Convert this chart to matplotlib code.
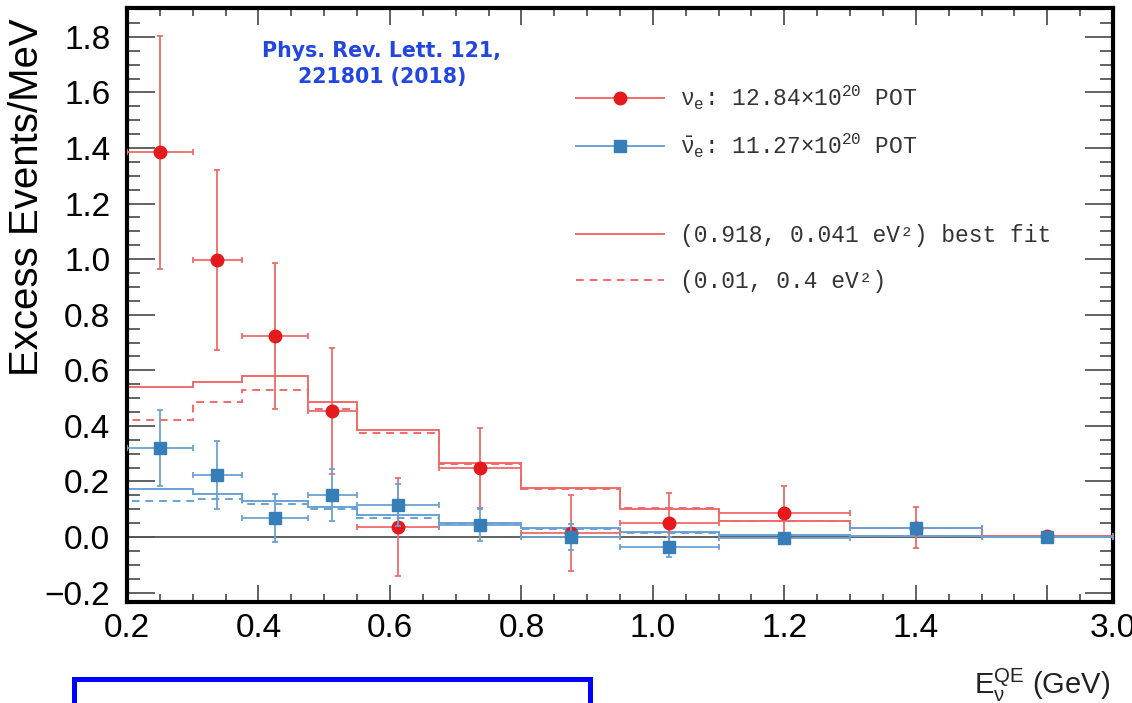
import matplotlib
matplotlib.use('Agg')
import matplotlib.pyplot as plt
from matplotlib.lines import Line2D
from matplotlib.patches import Rectangle
import numpy as np

plt.rcParams['font.family'] = ['Liberation Sans', 'DejaVu Sans']
plt.rcParams['mathtext.fontset'] = 'custom'
plt.rcParams['mathtext.rm'] = 'Liberation Sans'
plt.rcParams['mathtext.it'] = 'Liberation Sans'
plt.rcParams['mathtext.bf'] = 'Liberation Sans:bold'

# bin edges in GeV (last bin 1.5-3.0 is squeezed on the axis)
edges = [0.2, 0.3, 0.375, 0.475, 0.55, 0.675, 0.8, 0.95, 1.1, 1.3, 1.5, 3.0]

# neutrino mode excess (events/MeV)
nu_y = [1.385, 0.997, 0.724, 0.454, 0.036, 0.248, 0.014, 0.050, 0.086, 0.034, 0.002]
nu_err = [0.42, 0.324, 0.263, 0.227, 0.175, 0.144, 0.137, 0.108, 0.098, 0.074, 0.010]

# antineutrino mode excess
nubar_y = [0.320, 0.223, 0.068, 0.151, 0.115, 0.043, 0.000, -0.036, -0.005, 0.032, 0.000]
nubar_err = [0.137, 0.122, 0.085, 0.095, 0.075, 0.059, 0.048, 0.035, 0.020, 0.020, 0.010]

# predictions
nu_best = [0.540, 0.558, 0.580, 0.486, 0.385, 0.268, 0.176, 0.100, 0.058, 0.032, 0.004]
nu_alt = [0.421, 0.486, 0.529, 0.460, 0.374, 0.262, 0.172, 0.104, 0.059, 0.032, 0.004]
nubar_best = [0.172, 0.155, 0.130, 0.108, 0.079, 0.050, 0.033, 0.018, 0.007, 0.003, 0.001]
nubar_alt = [0.130, 0.137, 0.118, 0.100, 0.070, 0.045, 0.030, 0.016, 0.006, 0.003, 0.001]

xtick_labels = ['0.2', '0.4', '0.6', '0.8', '1.0', '1.2', '1.4', '', '3.0']

red = '#e41a1c'
red_l = '#f06a6a'
blue = '#377eb8'
blue_l = '#6aa2d4'


def fwd(x):
    x = np.asarray(x, dtype=float)
    return np.where(x <= 1.5, x, 1.5 + (x - 1.5) * 0.2 / 1.5)


def inv(x):
    x = np.asarray(x, dtype=float)
    return np.where(x <= 1.5, x, 1.5 + (x - 1.5) * 1.5 / 0.2)


edges = np.array(edges)
lo, hi = edges[:-1], edges[1:]
centers = inv((fwd(lo) + fwd(hi)) / 2)
xerr = [centers - lo, hi - centers]

fig = plt.figure(figsize=(11.32, 7.03), dpi=100)
ax = fig.add_axes([127 / 1132, 1 - 602 / 703, 986 / 1132, 594 / 703])
ax.set_xscale('function', functions=(fwd, inv))

ax.axhline(0, color='#555555', lw=1.3, zorder=1)

ax.stairs(nu_best, edges, color=red_l, lw=1.4, zorder=2)
ax.stairs(nu_alt, edges, color=red_l, lw=1.4, ls=(0, (4, 3)), zorder=2)
ax.stairs(nubar_best, edges, color=blue_l, lw=1.4, zorder=2)
ax.stairs(nubar_alt, edges, color=blue_l, lw=1.4, ls=(0, (4, 3)), zorder=2)

ax.errorbar(centers, nu_y, yerr=nu_err, xerr=xerr, fmt='o', color=red, ms=9,
            ecolor=red_l, elinewidth=1.3, capsize=2.5, capthick=1.3, zorder=3)
ax.errorbar(centers, nubar_y, yerr=nubar_err, xerr=xerr, fmt='s', color=blue, ms=9,
            ecolor=blue_l, elinewidth=1.3, capsize=2.5, capthick=1.3, zorder=4)

ax.set_xlim(0.2, 3.0)
ax.set_ylim(-0.234, 1.904)

major_x = [0.2, 0.4, 0.6, 0.8, 1.0, 1.2, 1.4, float(inv(1.6)), 3.0]
ax.set_xticks(major_x)
ax.set_xticklabels(xtick_labels)
ax.set_xticks(inv(np.arange(0.25, 1.70, 0.05)), minor=True)
ax.set_yticks(np.arange(-0.2, 1.81, 0.2))
ax.set_yticklabels(['%.1f' % v if v >= -0.01 else '\u22120.2' for v in np.arange(-0.2, 1.81, 0.2)])
ax.set_yticks(np.arange(-0.2, 1.90, 0.05), minor=True)

ax.tick_params(axis='both', which='both', direction='in', top=True, right=True,
               color='#555555', width=1.3)
ax.tick_params(axis='x', which='major', length=12, pad=8, labelsize=24)
ax.tick_params(axis='x', which='minor', length=6)
ax.tick_params(axis='y', which='major', length=20, pad=12, labelsize=24)
ax.tick_params(axis='y', which='minor', length=9.5)
for s in ax.spines.values():
    s.set_linewidth(3)
    s.set_color('black')

ax.set_ylabel('Excess Events/MeV', fontsize=29, loc='top')
ax.yaxis.set_label_coords(-0.082, 0.983)

fig.text(1110 / 1132, 1 - 694 / 703, r'$\mathregular{E_{\nu}^{QE}}$ (GeV)',
         ha='right', va='baseline', fontsize=21, color='#222222')

fig.text(382 / 1132, 1 - 64 / 703, 'Phys. Rev. Lett. 121,\n221801 (2018)',
         ha='center', va='center', fontsize=14.8, fontweight='bold',
         color='#2346e0', family='DejaVu Sans', linespacing=1.4)

mono = {'family': 'Liberation Mono', 'size': 16.5}
h1 = [Line2D([], [], color=red_l, lw=1.4, marker='o', ms=9, mfc=red, mec=red),
      Line2D([], [], color=blue_l, lw=1.4, marker='s', ms=9, mfc=blue, mec=blue)]
l1 = [r'$\mathregular{\nu_e}$: 12.84$\times$10$^{\mathregular{20}}$ POT',
      r'$\mathregular{\bar{\nu}_e}$: 11.27$\times$10$^{\mathregular{20}}$ POT']
leg1 = fig.legend(h1, l1, loc='upper left', bbox_to_anchor=(576 / 1132, 1 - 84 / 703),
                  frameon=False, prop=mono, handlelength=3.84, handletextpad=0.7,
                  labelspacing=0.85, borderpad=0, borderaxespad=0, labelcolor='#333333')
h2 = [Line2D([], [], color=red_l, lw=1.4),
      Line2D([], [], color=red_l, lw=1.4, ls=(0, (4, 3)))]
l2 = ['(0.918, 0.041 eV\u00b2) best fit', '(0.01, 0.4 eV\u00b2)']
leg2 = fig.legend(h2, l2, loc='upper left', bbox_to_anchor=(576 / 1132, 1 - 224 / 703),
                  frameon=False, prop=mono, handlelength=3.84, handletextpad=0.7,
                  labelspacing=1.0, borderpad=0, borderaxespad=0, labelcolor='#333333')

box = Rectangle((74 / 1132, -0.05), (590 - 74) / 1132, 0.05 + 1 - 679 / 703,
                transform=fig.transFigure, fill=False, edgecolor='#0000ff', lw=3.6,
                clip_on=False)
fig.add_artist(box)

fig.savefig('out.png', dpi=100)
